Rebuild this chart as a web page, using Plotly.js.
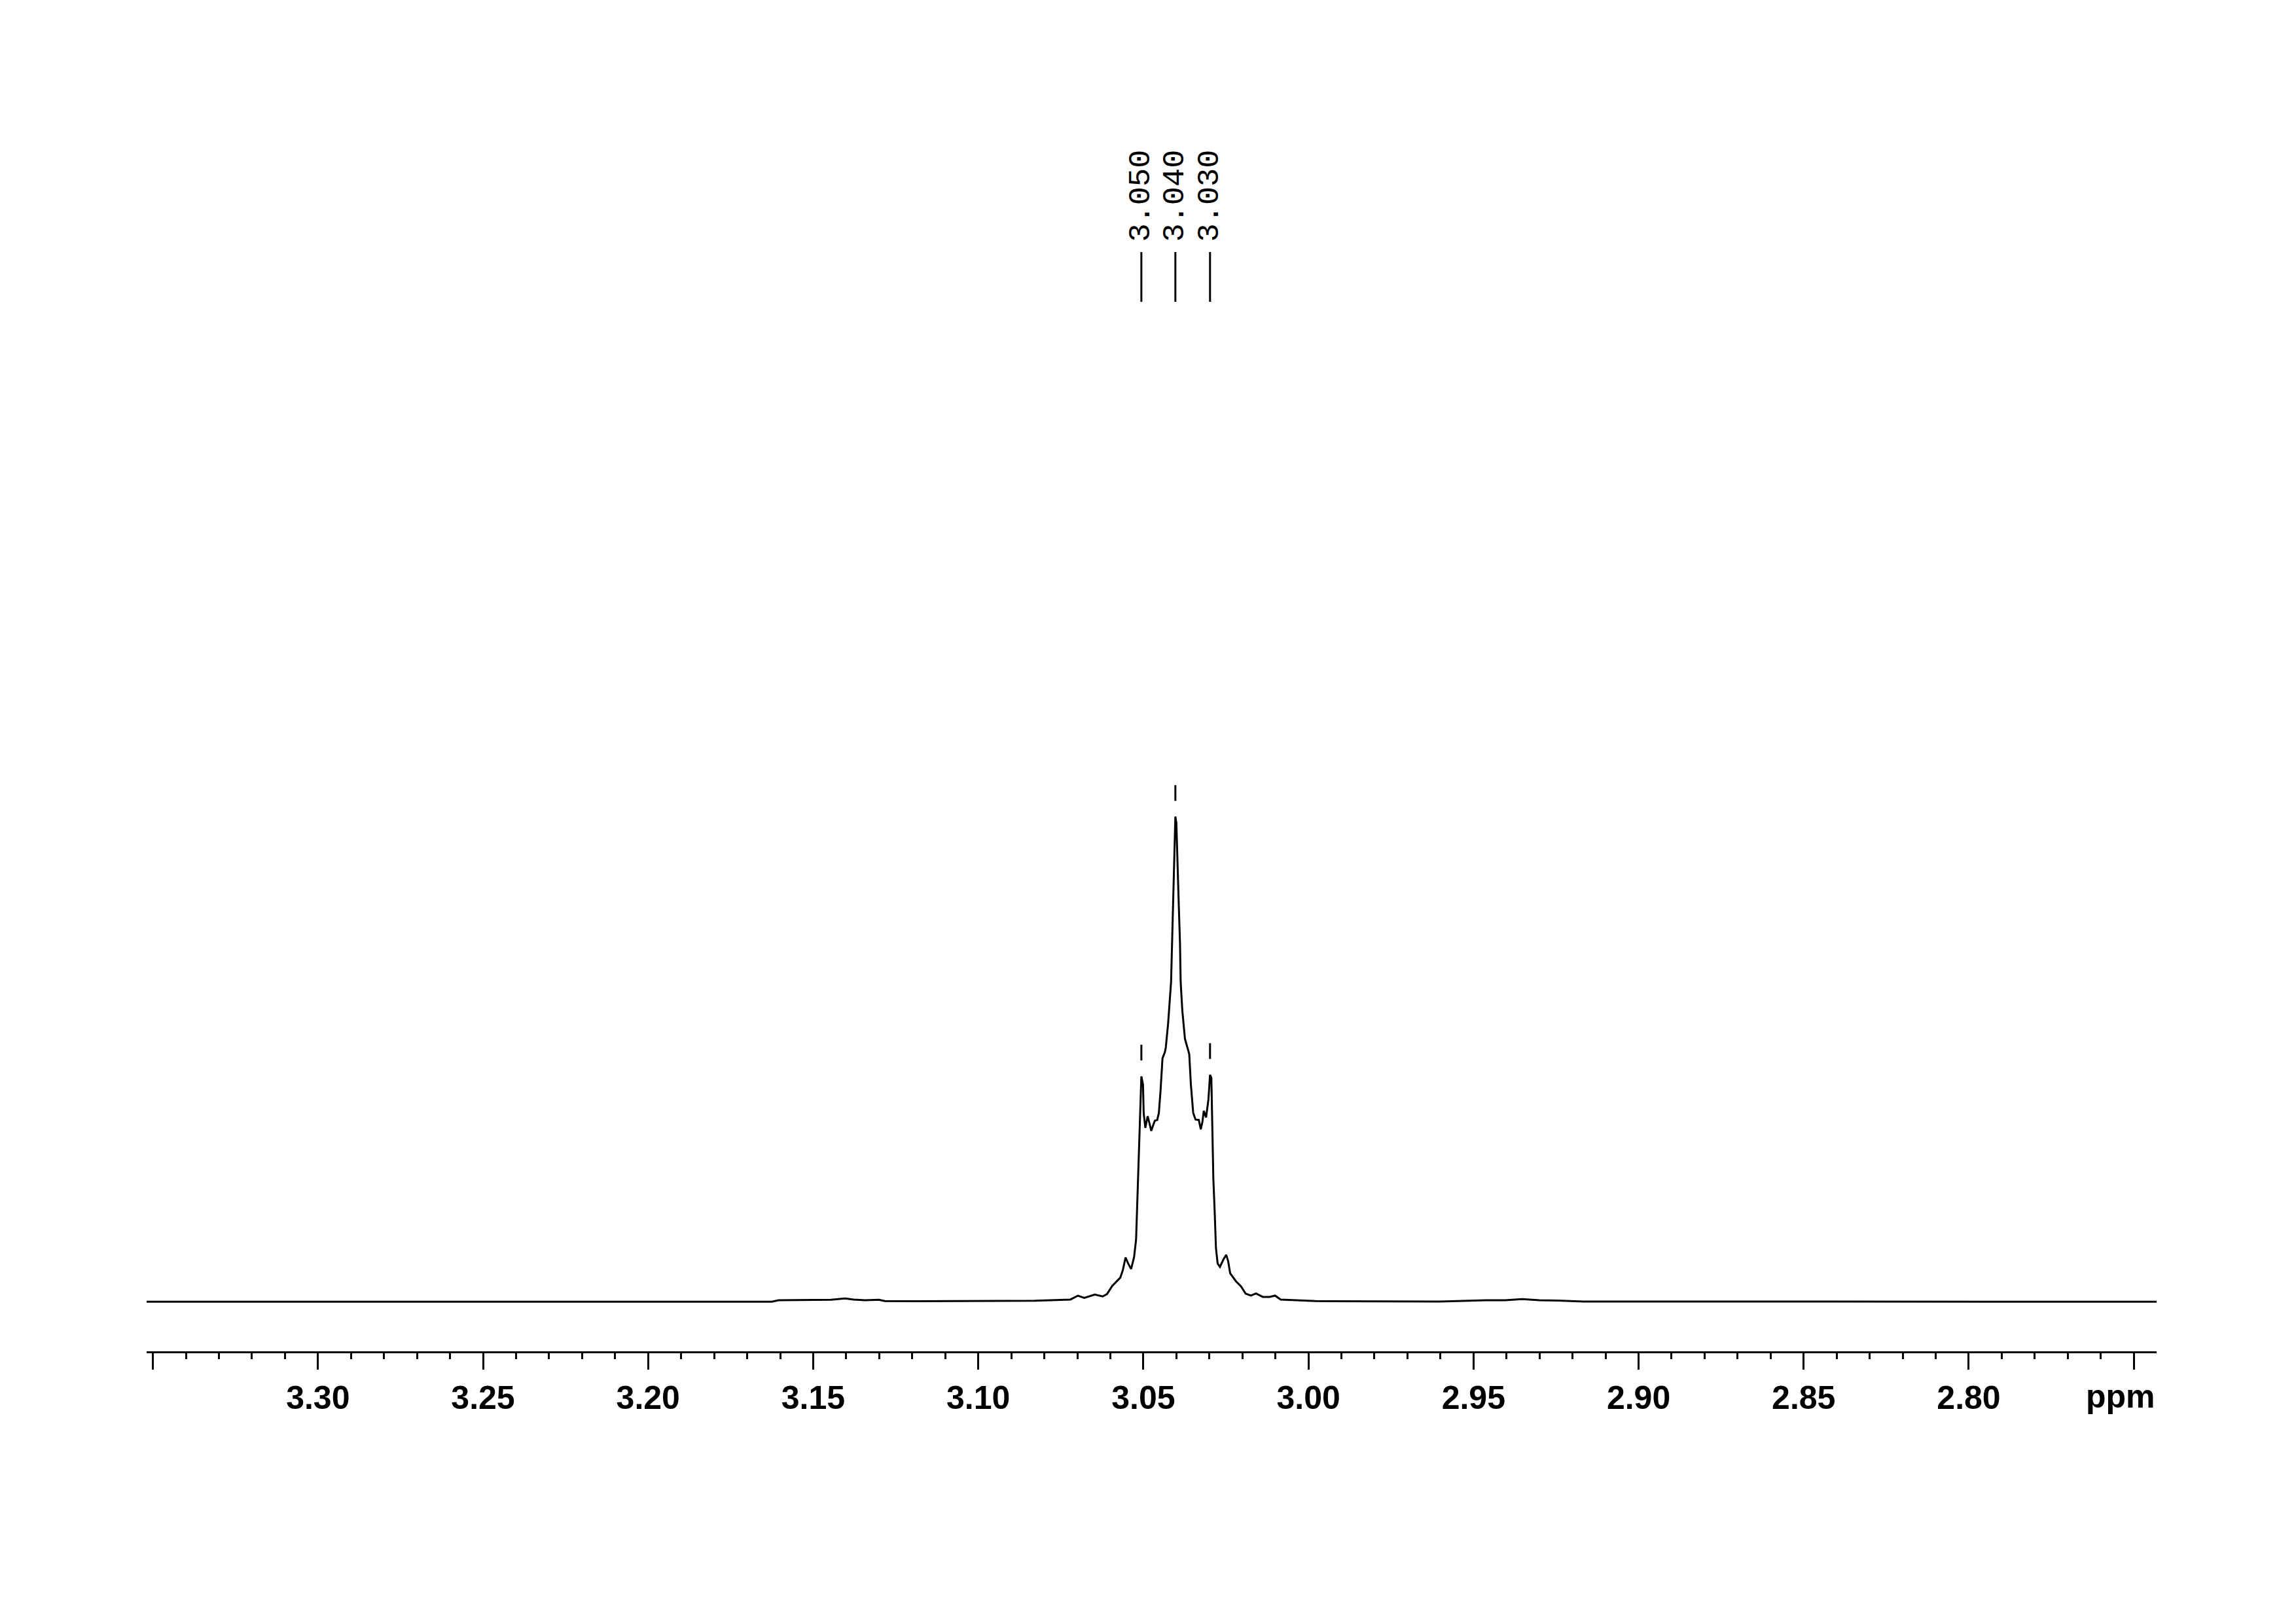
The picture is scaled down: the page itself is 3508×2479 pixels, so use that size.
<!DOCTYPE html>
<html>
<head>
<meta charset="utf-8">
<script src="https://cdn.plot.ly/plotly-3.0.1.min.js"></script>
<style>html,body{margin:0;padding:0;background:#fff;}#chart{width:3508px;height:2479px;}</style>
</head>
<body>
<div id="chart"></div>
<script>
// Chemical shift (ppm) and intensity (arbitrary units, tallest peak = 100)
const ppmValues = [3.3519, 3.1783, 3.1625, 3.1605, 3.1502, 3.1446, 3.1404, 3.1377, 3.1343, 3.1301, 3.1283, 3.1188,
  3.0828, 3.0752, 3.0721, 3.0698, 3.0679, 3.0647, 3.0623, 3.0610, 3.0594, 3.0570, 3.0562, 3.0554, 3.0546, 3.0537,
  3.0528, 3.0522, 3.0519, 3.0516, 3.0511, 3.0509, 3.0506, 3.0501, 3.0499, 3.0494, 3.0487, 3.0481, 3.0476, 3.0469,
  3.0465, 3.0458, 3.0453, 3.0448, 3.0442, 3.0435, 3.0432, 3.0425, 3.0419, 3.0416, 3.0414, 3.0412, 3.0409, 3.0407,
  3.0404, 3.0403, 3.0400, 3.0397, 3.0395, 3.0392, 3.0389, 3.0387, 3.0382, 3.0374, 3.0366, 3.0361, 3.0356, 3.0349,
  3.0342, 3.0332, 3.0326, 3.0321, 3.0317, 3.0310, 3.0303, 3.0298, 3.0294, 3.0291, 3.0288, 3.0284, 3.0280, 3.0275,
  3.0268, 3.0257, 3.0249, 3.0243, 3.0237, 3.0220, 3.0204, 3.0190, 3.0174, 3.0159, 3.0138, 3.0118, 3.0101, 3.0084,
  3.0038, 2.9978, 2.9602, 2.9462, 2.9404, 2.9353, 2.9300, 2.9245, 2.9166, 2.7431];
const intensityValues = [0, 0, 0, 0.3, 0.35, 0.4, 0.67, 0.45, 0.31, 0.4, 0.13, 0.1,
  0.2, 0.35, 0.45, 1.25, 0.8, 1.48, 1.08, 1.57, 3.28, 4.94, 6.52, 9.12, 7.87, 6.75,
  9.22, 12.82, 18.66, 25.41, 34.41, 40.03, 46.46, 44.75, 38.91, 35.84, 38.23, 36.65, 35.22, 36.65,
  37.33, 37.46, 38.91, 43.4, 50.15, 51.42, 52.4, 57.35, 62.29, 65.9, 71.3, 76.7, 83.04, 89.78,
  96.03, 100, 98.73, 92.89, 87.04, 80.3, 74.0, 66.0, 60.05, 54.2, 52.4, 51.05, 44.75, 38.91,
  37.56, 37.46, 35.53, 37.11, 39.35, 38.0, 41.6, 46.77, 46.1, 34.41, 25.41, 18.66, 11.01, 7.87,
  7.19, 8.77, 9.66, 8.31, 5.84, 4.26, 3.14, 1.66, 1.26, 1.70, 0.99, 0.99, 1.26, 0.45,
  0.3, 0.13, 0.05, 0.3, 0.3, 0.55, 0.3, 0.25, 0.05, 0];

// Picked peaks
const peakPositions = [3.0506, 3.0403, 3.0298];
const peakHeights = [46.5, 100, 46.8];
const peakLabels = ['3.050', '3.040', '3.030'];

// Axis ticks
const tickVals = [3.35, 3.30, 3.25, 3.20, 3.15, 3.10, 3.05, 3.00, 2.95, 2.90, 2.85, 2.80, 2.75];
const tickText = ['', '3.30', '3.25', '3.20', '3.15', '3.10', '3.05', '3.00', '2.95', '2.90', '2.85', '2.80', ''];
const axisUnit = 'ppm';

const trace = {
  x: ppmValues, y: intensityValues, type: 'scatter', mode: 'lines',
  line: {color: 'black', width: 3}, hoverinfo: 'skip'
};

const shapes = [];
const annotations = [];
peakPositions.forEach((p, i) => {
  // short mark above each picked peak
  shapes.push({type: 'line', xref: 'x', yref: 'y', ysizemode: 'pixel', yanchor: peakHeights[i],
    x0: p, x1: p, y0: 24, y1: 48, line: {color: 'black', width: 3}});
  // label leader line
  shapes.push({type: 'line', xref: 'x', yref: 'paper', x0: p, x1: p, y0: 0.85085, y1: 0.89119,
    line: {color: 'black', width: 3}});
  annotations.push({xref: 'x', x: p, yref: 'paper', y: 0.8985, xanchor: 'center', yanchor: 'bottom',
    text: peakLabels[i], textangle: -90, showarrow: false,
    font: {family: 'Liberation Mono, DejaVu Sans Mono, monospace', size: 47, color: 'black'}});
});
annotations.push({xref: 'paper', x: 1, xanchor: 'right', yref: 'paper', y: 0, yanchor: 'top', yshift: -39,
  text: axisUnit, showarrow: false,
  font: {family: 'Liberation Sans, Arial, sans-serif', size: 50, color: 'black', weight: 'bold'}});

const layout = {
  width: 3508, height: 2479,
  margin: {l: 224, r: 213, t: 180, b: 415, pad: 0},
  paper_bgcolor: 'white', plot_bgcolor: 'white', showlegend: false,
  xaxis: {
    range: [3.3519, 2.7431], showline: true, linecolor: 'black', linewidth: 3,
    ticks: 'outside', ticklen: 25, tickwidth: 3, tickcolor: 'black',
    tickmode: 'array', tickvals: tickVals, ticktext: tickText,
    tickfont: {family: 'Liberation Sans, Arial, sans-serif', size: 50, color: 'black', weight: 'bold'},
    minor: {ticks: 'outside', ticklen: 9, tickwidth: 3, tickcolor: 'black', tickmode: 'linear', tick0: 0, dtick: 0.01, showgrid: false},
    showgrid: false, zeroline: false, fixedrange: true
  },
  yaxis: {visible: false, range: [-10.22, 244.03], fixedrange: true, showgrid: false, zeroline: false},
  shapes: shapes, annotations: annotations
};

Plotly.newPlot('chart', [trace], layout, {displayModeBar: false, staticPlot: true});
</script>
</body>
</html>
